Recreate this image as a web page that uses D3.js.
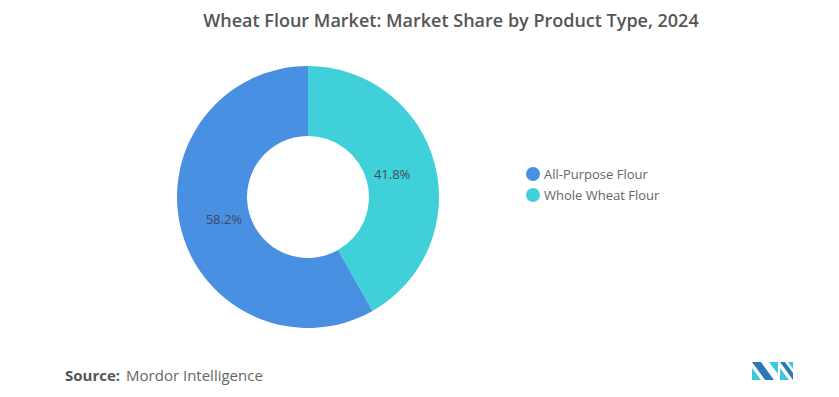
<!DOCTYPE html>
<html>
<head>
<meta charset="utf-8">
<script src="https://cdn.jsdelivr.net/npm/d3@7"></script>
<style>
  body { margin: 0; background: #fff; }
  text { font-family: "Open Sans", "Noto Sans", sans-serif; }
</style>
</head>
<body>
<script>
const width = 839,
    height = 397;

// data
const categories = ["Whole Wheat Flour", "All-Purpose Flour"];
const shares = [41.8, 58.2];
const legendOrder = ["All-Purpose Flour", "Whole Wheat Flour"];
const colors = {"All-Purpose Flour": "#4a90e2", "Whole Wheat Flour": "#40d0d9"};

const svg = d3.select('body')
    .append('svg')
    .attr('width', width)
    .attr('height', height);

// title
svg.append('text')
    .attr('x', 451)
    .attr('y', 27)
    .attr('text-anchor', 'middle')
    .attr('font-size', 18)
    .attr('font-weight', 600)
    .attr('fill', '#555')
    .text('Wheat Flour Market: Market Share by Product Type, 2024');

const cx = 308, cy = 197, outer = 131, inner = 61;

const pie = d3.pie().sort(null).value(d => d.value);
const arcs = pie(categories.map((c, i) => ({name: c, value: shares[i]})));

const arc = d3.arc().innerRadius(inner).outerRadius(outer);
const labelArc = d3.arc().innerRadius(87).outerRadius(87);

const g = svg.append('g').attr('transform', 'translate(' + cx + ',' + cy + ')');

g.selectAll('path')
    .data(arcs)
    .enter().append('path')
    .attr('d', arc)
    .attr('fill', d => colors[d.data.name]);

g.selectAll('text.lbl')
    .data(arcs)
    .enter().append('text')
    .attr('class', 'lbl')
    .attr('transform', d => 'translate(' + labelArc.centroid(d) + ')')
    .attr('text-anchor', 'middle')
    .attr('dy', '0.35em')
    .attr('font-size', 13)
    .attr('fill', '#3d4a5c')
    .text(d => d.data.value.toFixed(1) + '%');

// legend
const legend = svg.append('g').attr('transform', 'translate(533,174)');
const items = legend.selectAll('g')
    .data(legendOrder)
    .enter().append('g')
    .attr('transform', (d, i) => 'translate(0,' + i * 21 + ')');

items.append('circle')
    .attr('r', 7)
    .attr('fill', d => colors[d]);

items.append('text')
    .attr('x', 11)
    .attr('dy', '0.35em')
    .attr('font-size', 13)
    .attr('fill', '#666')
    .text(d => d);

// source
const src = svg.append('text')
    .attr('x', 65)
    .attr('y', 381)
    .attr('font-size', 15)
    .attr('fill', '#555');
src.append('tspan').attr('font-weight', 700).text('Source:');
src.append('tspan').attr('dx', 6).attr('fill', '#666').text('Mordor Intelligence');

// logo
const logo = svg.append('g').attr('transform', 'translate(752,362)');
logo.append('path').attr('d', 'M0,0 L9,0 L22,18 L13,18 Z').attr('fill', '#2a7ab8');
logo.append('path').attr('d', 'M0,6 L9,18 L0,18 Z').attr('fill', '#40c8d6');
logo.append('path').attr('d', 'M17,0 L26,0 L26,12 Z').attr('fill', '#40c8d6');
logo.append('path').attr('d', 'M28,0 L33,0 L41,11 L41,18 Z').attr('fill', '#2a7ab8');
logo.append('path').attr('d', 'M28,6 L37,18 L28,18 Z').attr('fill', '#40c8d6');
logo.append('path').attr('d', 'M36,0 L41,0 L41,7 Z').attr('fill', '#40c8d6');
</script>
</body>
</html>
